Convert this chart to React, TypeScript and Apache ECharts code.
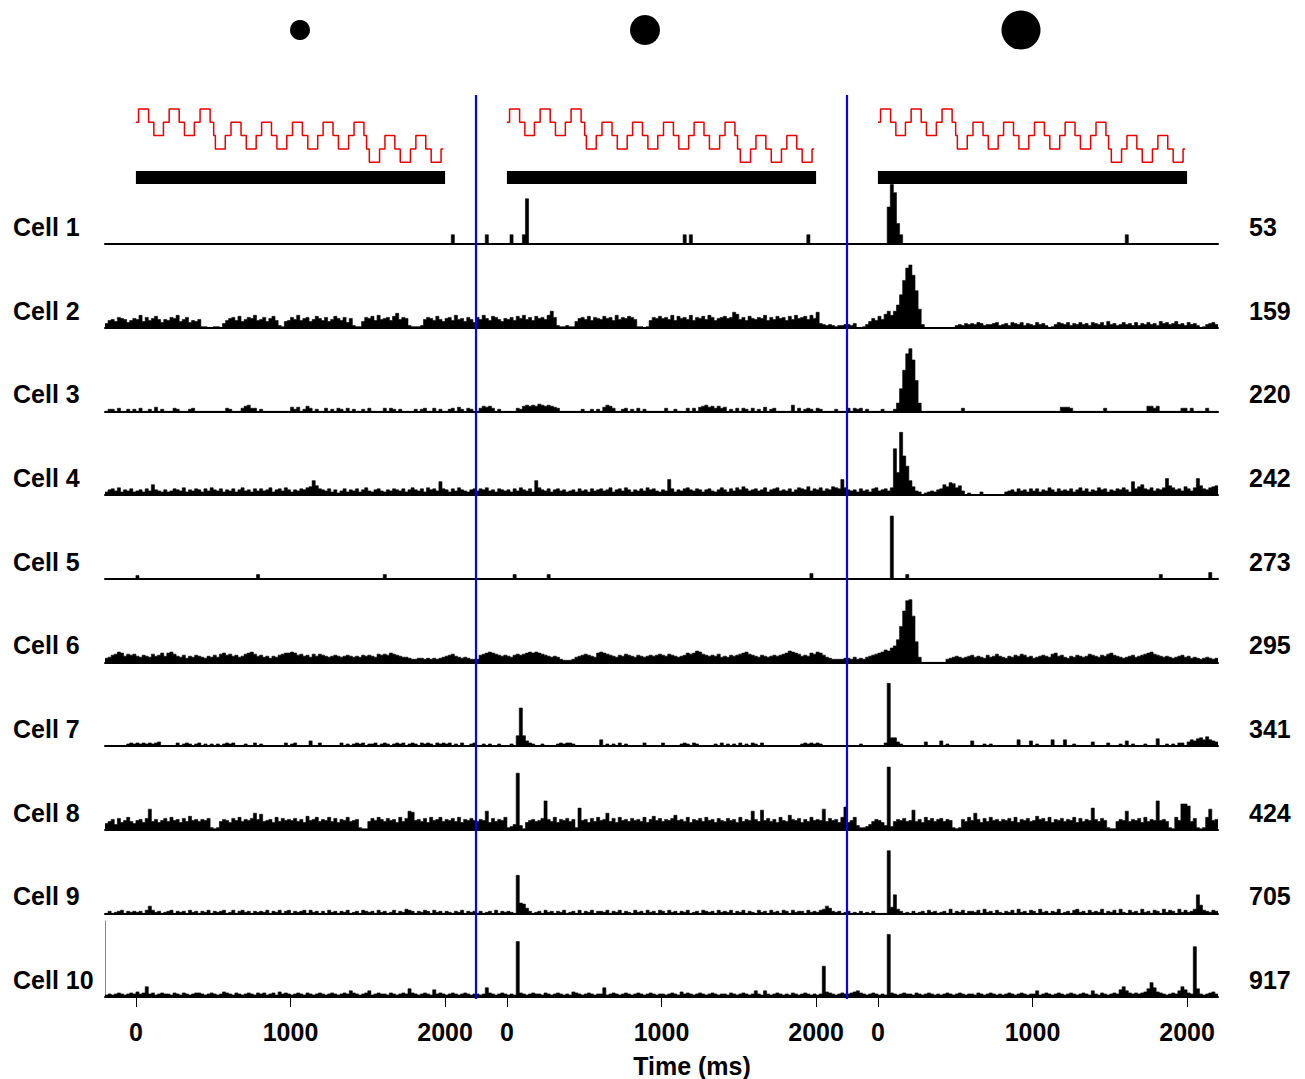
import React, { useEffect, useRef } from "react";
import * as echarts from "echarts";

// ---------- DATA ----------
const ALPHA = "0123456789abcdefghijklmnopqrstuvwxyzABCDEFGHIJKLMNOPQRSTUVWXYZ";
const decode = (s: string) => s.replace(/\s+/g, "").split("").map((c) => ALPHA.indexOf(c));

const CELL_NAMES = ["Cell 1", "Cell 2", "Cell 3", "Cell 4", "Cell 5", "Cell 6", "Cell 7", "Cell 8", "Cell 9", "Cell 10"];
const CELL_COUNTS = ["53", "159", "220", "242", "273", "295", "341", "424", "705", "917"];
const X_TICKS = [0, 1000, 2000];
const X_TITLE = "Time (ms)";

// stimulus waveform (ms, level 1 = top)
const STIM_T = [0, 17, 82, 116, 178, 215, 280, 314, 378, 415, 480, 503, 514, 578, 615, 680, 714, 778, 813, 877, 912, 976, 1013, 1077, 1112, 1176, 1211, 1275, 1310, 1376, 1411, 1475, 1492, 1510, 1576, 1611, 1675, 1710, 1776, 1811, 1875, 1910, 1974, 1987];
const STIM_LEVEL = [2, 1, 2, 3, 2, 1, 2, 3, 2, 1, 2, 3, 4, 3, 2, 3, 4, 3, 2, 3, 4, 3, 2, 3, 4, 3, 2, 3, 4, 3, 2, 3, 4, 5, 4, 3, 4, 5, 4, 3, 4, 5, 4, 4];
const STIM_BAR_T = [0, 2000];

// PSTH bins (20 ms, -200..2200 ms) per panel, heights in base-62 characters
const CELL1 = [
  "0000000000 0000000000 0000000000 0000000000 0000000000 0000000000 0000000000 0000000000 0000000000 0000000000 0000000000 0090000000",
  "0009000000 090009I000 0000000000 0000000000 0000000000 0000000000 0000000909 0000000000 0000000000 0000000000 0000000900 0000000000",
  "0000000000 000AWOk900 0000000000 0000000000 0000000000 0000000000 0000000000 0000000000 0000000000 9000000000 0000000000 0000000000",
];
const CELL2 = [
  "4786a98579 8c6a79b858 7a9c68a576 8110011047 9a7b68a9c7 8a69b72167 a8c79a68b9 7a68b97a59 2116a9b7c8 9a7be8a921 1128a97b86 9a7c896a85",
  "a8c97ba869 8a7b9c8a7b 9a8cga2112 1169a8b7a9 8b9a7c8a9b a811017a9b 9a8c7b9a8c 7a9b8ca79a b9afd8a7b9 8a9c7a8b9a 7b8c9ab8c9 f432321223",
  "3240013697 b8dgcgmwKW ZPAi300000 0000023243 4354233452 3425435243 2534201354 3524353425 4352634235 3425243534 2645346342 5342013453",
];
const CELL3 = [
  "0220300202 0300204020 0032000230 0000000003 2000356330 2000000000 4240253020 0302032030 2002030000 3032020000 2023003020 0230420320",
  "0354530200 0003256565 7656543000 0000200202 0465300230 2030200000 0300200030 3045645353 4020303203 0204023000 0060302320 3200002000",
  "3032302000 0200028mEU ZOu8000000 0000000300 0000000000 0000000000 0000000004 4430000000 0003000000 0000000553 5000000033 0300003000",
];
const CELL4 = [
  "3564735463 45364a5435 3465473546 5364754635 4635745364 6457356475 3546578e96 5463524635 4635743564 3546546357 54637564d6 5364754356",
  "4657453654 536475463e 7546356453 4536453645 6457356475 3546475643 54f6354675 4653564357 5364758645 6457356745 4635765846 57465876f7",
  "5453645367 45647JmZCs e843023435 6a8cb79402 0003000000 0345364536 4635475364 5463574635 4756354657 53d68a6574 657g975648 647g965789",
];
const CELL5 = [
  "0000000000 3000000000 0000000000 0000000000 0000000004 0000000000 0000000000 0000000000 0000000000 4000000000 0000000000 0000000000",
  "0000000000 0040000000 0004000000 0000000000 0000000000 0000000000 0000000000 0000000000 0000000000 0000000000 0000000050 0000000000",
  "0000000000 0000Z00004 0000000000 0000000000 0000000000 0000000000 0000000000 0000000000 0000000000 0000000000 0400000000 0000000600",
];
const CELL6 = [
  "4578a96878 6576586796 9a86574657 6546575897 8675689a86 7564657899 a978675868 7656765676 5657676587 8798765543 3443434345 6786545433",
  "3789a98767 6578789a9a 9876565322 2356787659 a987657687 6576567678 7687656798 9ba8767685 6576789a87 6576567678 9ba9867698 a975433334",
  "4353435678 9acbegmzOY ZJk5000000 0034565456 7565475686 5465768756 4567658967 5465765687 6576897654 56756789a8 7656545675 6454345434",
];
const CELL7 = [
  "0000000232 3232323400 0003023202 3020202023 2300020030 2000000030 2300005003 0000003020 2323022302 3202323023 2032320323 2302030023",
  "0020200200 020aBa5320 0200002323 3200000000 6020203020 0000300000 3000002320 3200000203 0202030203 2030000000 0000023232 3200000000",
  "0000200000 003Z884200 0000040000 5020000000 5000202000 0000060005 0200006000 6002000004 0000300020 5020002000 7002020330 4657869654",
];
const CELL8 = [
  "68a5b79c86 9a7bk8a79b 8c9a7b8d9a 8a9b2128a9 7b9c8a9bga f89a7c8b9a 9b8a7d9ac8 a9c8b7a9c8 9a2118b9ca 8b9a7c8bih 9a8b7c9ac8 a9b8c7a9b9",
  "8a9i7b8a9c 235T4179a8 9bsa8c7a9b 8a2l9a7b8c 9ag8b7c9a8 b9a8c7ad9b 8a9be9a8c7 a9b8c9a7b9 8b9a7c8a9i a8j9b8a7c9 8ea9b7a8c9 a9k8b9a7cm",
  "79c422358a 974Z38a9b8 9j8a7c9b8a b8a9212a8c 9ga7b8c9a8 a9b8c7a9b8 9dab8c7a9b 8a9c7b8a9l a8b92118a9 i8a9b7c8a9 s9a821c9pp n8b212ck9a",
];
const CELL9 = [
  "0201230212 1203731201 2302120312 0213021230 1302312021 2130213023 0212303120 2031202130 1203212031 2013021432 0213203120 2102130212",
  "0201203021 210Ba95201 2031202130 1203021302 2130213021 0312031203 2031202130 1203212031 2130213021 0312031203 2031220312 1347521201",
  "2010201020 000Z6i4201 0201203120 1204021302 2130412031 0213041203 2041202140 1203412031 2140213041 0312041203 2041320413 124i832132",
];
const CELL10 = [
  "2323432343 534a342343 3243243234 4323432354 3243234324 3423425343 2343243234 3234323436 4323462343 3243234384 3234327343 2343234323",
  "3239432343 232S432343 3243234323 2543234323 3923432343 2343234323 3234325343 2343234323 3243234323 6326323432 3243234323 23u5432343",
  "3456432343 232Z432343 3243234323 2343234323 3243234323 2343234323 3623432343 2343234326 324323437a 64343458e9 54323436a7 43N8323453",
];
const CELLS = [CELL1, CELL2, CELL3, CELL4, CELL5, CELL6, CELL7, CELL8, CELL9, CELL10];

// ---------- LAYOUT ----------
const T_MIN = -200;
const T_MAX = 2200;
const LEFT = 105;
const PANEL_W = 371;
const BASE0 = 244;
const ROW_STEP = 83.67;
const ROW_H = 76;
const Y_MAX = 74;
const FONT = '"Liberation Sans", Arial, Helvetica, sans-serif';
const BOLD_FONT = `bold 25px ${FONT}`;

function buildOption() {
  const grid: any[] = [];
  const xAxis: any[] = [];
  const yAxis: any[] = [];
  const series: any[] = [];
  const graphic: any[] = [];

  // stimulus panels
  for (let c = 0; c < 3; c++) {
    const idx = grid.length;
    grid.push({ left: LEFT + c * PANEL_W, top: 95, width: PANEL_W, height: 100 });
    xAxis.push({ type: "value", gridIndex: idx, min: T_MIN, max: T_MAX, show: false });
    yAxis.push({ type: "value", gridIndex: idx, min: -1.466, max: 6.05, show: false });
    series.push({
      type: "line",
      xAxisIndex: idx,
      yAxisIndex: idx,
      data: STIM_T.map((t, i) => [t, 6 - STIM_LEVEL[i]]),
      step: "end",
      symbol: "none",
      silent: true,
      lineStyle: { color: "#e60000", width: 1.5 },
    });
    series.push({
      type: "line",
      xAxisIndex: idx,
      yAxisIndex: idx,
      data: STIM_BAR_T.map((t) => [t, -0.15]),
      symbol: "none",
      silent: true,
      lineStyle: { color: "#000", width: 13, cap: "butt" },
    });
  }

  for (let r = 0; r < CELLS.length; r++) {
    const base = BASE0 + r * ROW_STEP;
    const bottom = r === CELLS.length - 1;
    for (let c = 0; c < 3; c++) {
      const idx = grid.length;
      grid.push({ left: LEFT + c * PANEL_W, top: base - ROW_H, width: PANEL_W, height: ROW_H });
      xAxis.push({
        type: "value",
        gridIndex: idx,
        min: T_MIN,
        max: T_MAX,
        axisLine: { show: true, onZero: false, lineStyle: { color: "#000", width: 2 } },
        axisTick: bottom
          ? { show: true, customValues: X_TICKS, length: 10, lineStyle: { color: "#000", width: 1 } }
          : { show: false },
        axisLabel: bottom
          ? {
              show: true,
              customValues: X_TICKS,
              formatter: (v: number) => String(v),
              margin: 22,
              fontSize: 25,
              fontWeight: "bold",
              color: "#000",
              fontFamily: FONT,
            }
          : { show: false },
        splitLine: { show: false },
      });
      yAxis.push({
        type: "value",
        gridIndex: idx,
        min: 0,
        max: Y_MAX,
        show: bottom && c === 0,
        axisLine: { show: true, onZero: false, lineStyle: { color: "#888", width: 1 } },
        axisTick: { show: false },
        axisLabel: { show: false },
        splitLine: { show: false },
      });
      const vals = decode(CELLS[r][c]);
      const bw = (T_MAX - T_MIN) / vals.length;
      const data: number[][] = vals.map((v, i) => [T_MIN + i * bw, v]);
      data.push([T_MAX, vals[vals.length - 1]]);
      series.push({
        type: "line",
        xAxisIndex: idx,
        yAxisIndex: idx,
        data,
        step: "end",
        symbol: "none",
        silent: true,
        lineStyle: { color: "#000", width: 0.6 },
        areaStyle: { color: "#000", opacity: 1 },
        z: 2,
      });
    }
    graphic.push({
      type: "text",
      x: 13,
      y: base - 17,
      style: { text: CELL_NAMES[r], font: BOLD_FONT, fill: "#000", verticalAlign: "middle", textVerticalAlign: "middle" },
    });
    graphic.push({
      type: "text",
      x: 1249,
      y: base - 17,
      style: { text: CELL_COUNTS[r], font: BOLD_FONT, fill: "#000", verticalAlign: "middle", textVerticalAlign: "middle" },
    });
  }

  // separators between panels
  for (let c = 1; c < 3; c++) {
    const x = LEFT + c * PANEL_W;
    graphic.push({
      type: "line",
      z: 100,
      shape: { x1: x, y1: 95, x2: x, y2: 999 },
      style: { stroke: "#0000ff", lineWidth: 2.2 },
    });
  }

  // stimulus size markers
  graphic.push({ type: "circle", shape: { cx: 300, cy: 30, r: 10 }, style: { fill: "#000" } });
  graphic.push({ type: "circle", shape: { cx: 645, cy: 30, r: 15 }, style: { fill: "#000" } });
  graphic.push({ type: "circle", shape: { cx: 1021, cy: 30, r: 19.5 }, style: { fill: "#000" } });

  graphic.push({
    type: "text",
    x: 692,
    y: 1066,
    style: {
      text: X_TITLE,
      font: BOLD_FONT,
      fill: "#000",
      align: "center",
      textAlign: "center",
      verticalAlign: "middle",
      textVerticalAlign: "middle",
    },
  });

  return {
    animation: false,
    backgroundColor: "#fff",
    grid,
    xAxis,
    yAxis,
    series,
    graphic,
  };
}

export default function App() {
  const ref = useRef<HTMLDivElement>(null);
  useEffect(() => {
    document.body.style.margin = "0";
    document.body.style.overflow = "hidden";
    const chart = echarts.init(ref.current as HTMLDivElement, null, { renderer: "svg" });
    chart.setOption(buildOption() as any);
    return () => chart.dispose();
  }, []);
  return <div ref={ref} style={{ width: 1305, height: 1079 }} />;
}
